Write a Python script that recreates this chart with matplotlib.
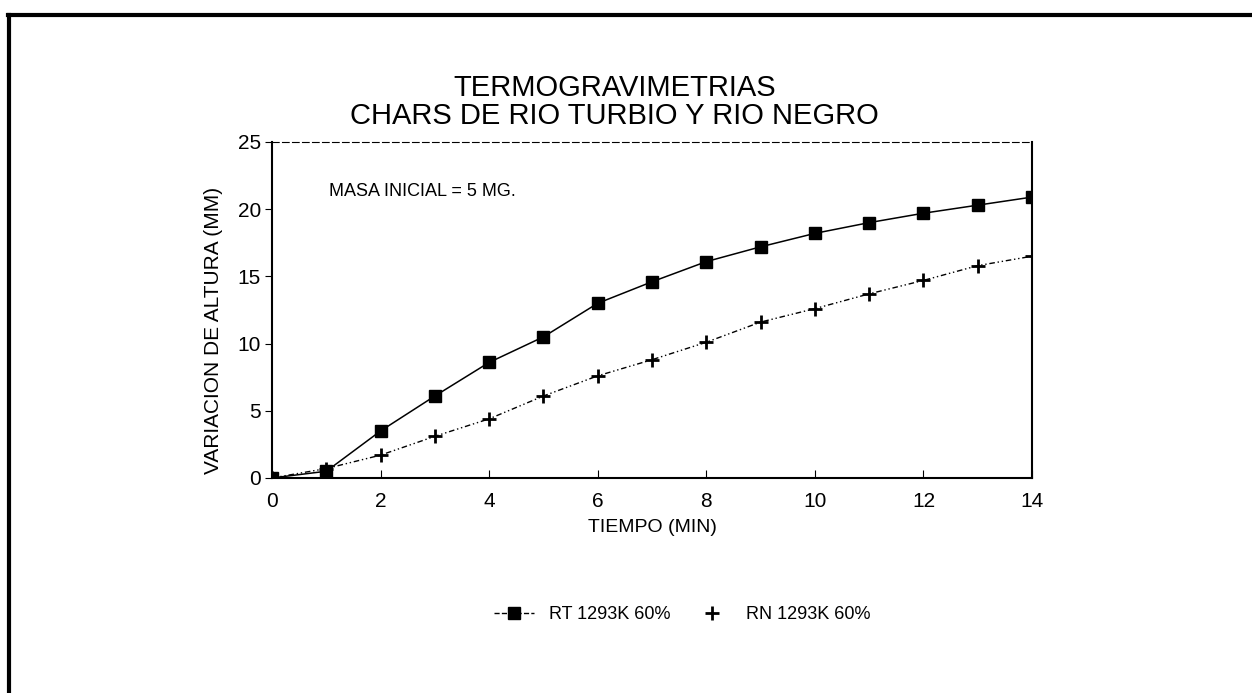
import matplotlib
matplotlib.use("Agg")
import matplotlib.pyplot as plt
from matplotlib.lines import Line2D

plt.rcParams['font.family'] = ['Liberation Sans', 'DejaVu Sans']

tiempo = [0, 1, 2, 3, 4, 5, 6, 7, 8, 9, 10, 11, 12, 13, 14]
rt = [0, 0.5, 3.5, 6.1, 8.6, 10.5, 13.0, 14.6, 16.1, 17.2, 18.2, 19.0, 19.7, 20.3, 20.9]
rn = [0, 0.7, 1.7, 3.1, 4.4, 6.1, 7.6, 8.8, 10.1, 11.6, 12.6, 13.7, 14.7, 15.8, 16.5]
x_ticks = [0, 2, 4, 6, 8, 10, 12, 14]
y_ticks = [0, 5, 10, 15, 20, 25]

fig = plt.figure(figsize=(12.52, 6.93), dpi=100)
ax = fig.add_axes([0.2173, 0.3103, 0.607, 0.4848])

ax.plot(tiempo, rt, color='black', lw=1.1, marker='s', markersize=9,
        label='RT 1293K 60%')
ax.plot(tiempo, rn, color='black', lw=1.0, ls=(0, (4, 2, 1, 2, 1, 2)), marker='+',
        markersize=10, markeredgewidth=2, label='RN 1293K 60%')

ax.set_xlim(0, 14)
ax.set_ylim(0, 25)
ax.set_xticks(x_ticks)
ax.set_yticks(y_ticks)
ax.tick_params(axis='x', direction='in', length=6, labelsize=15, pad=10)
ax.tick_params(axis='y', direction='out', length=5, labelsize=15, pad=3)
ax.spines['top'].set_linestyle((0, (6, 3)))
ax.spines['top'].set_linewidth(0.8)
ax.spines['right'].set_linewidth(1.5)
ax.spines['left'].set_linewidth(1.5)
ax.spines['bottom'].set_linewidth(1.5)

ax.set_xlabel('TIEMPO (MIN)', fontsize=14, labelpad=6)
ax.set_ylabel('VARIACION DE ALTURA (MM)', fontsize=15)
ax.yaxis.set_label_coords(-0.064, 0.44)
ax.text(0.075, 0.84, 'MASA INICIAL = 5 MG.', transform=ax.transAxes, fontsize=13)

fig.text(0.491, 0.813, 'TERMOGRAVIMETRIAS\nCHARS DE RIO TURBIO Y RIO NEGRO',
         ha='center', va='bottom', fontsize=21, linespacing=1.0)

handles = [
    Line2D([], [], color='black', lw=1.0, ls='--', marker='s', markersize=8),
    Line2D([], [], color='none', marker='+', markeredgecolor='black',
           markersize=10, markeredgewidth=2),
]
fig.legend(handles, ['RT 1293K 60%', 'RN 1293K 60%'], loc='center',
           bbox_to_anchor=(0.545, 0.113), ncol=2, frameon=False, fontsize=13,
           handlelength=2.2, columnspacing=1.2)

# outer frame (top and left edges)
fig.add_artist(Line2D([0.006, 1.0], [0.978, 0.978], color='black', lw=3,
                      transform=fig.transFigure))
fig.add_artist(Line2D([0.007, 0.007], [0.0, 0.978], color='black', lw=3,
                      transform=fig.transFigure))

fig.savefig('out.png', dpi=100)
